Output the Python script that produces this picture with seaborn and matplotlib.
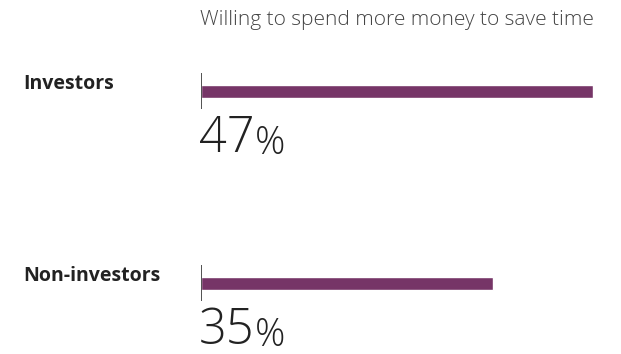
import matplotlib
matplotlib.use("Agg")
import matplotlib.pyplot as plt
import seaborn as sns
import pandas as pd

groups = ["Investors", "Non-investors"]
values = [47, 35]
title = "Willing to spend more money to save time"

bar_color = "#763567"
text_dark = "#222222"
text_grey = "#444444"

sns.set_theme(style="white")
plt.rcParams["font.family"] = ["Open Sans", "DejaVu Sans"]

df = pd.DataFrame({"group": groups, "value": values})

W, H = 621, 354
fig = plt.figure(figsize=(W / 100, H / 100), dpi=100)
x0, x1 = 201, 593
ax = fig.add_axes([x0 / W, 0, (x1 - x0) / W, 1])

sns.barplot(data=df, y="group", x="value", orient="h", color=bar_color,
            width=0.068, saturation=1, ax=ax)

row0, row_gap = 91.5, 192
ax.set_xlim(0, max(values))
ax.set_ylim((H - row0) / row_gap, -row0 / row_gap)
ax.axis("off")

for i, (g, v) in enumerate(zip(groups, values)):
    # short baseline tick at zero
    ax.vlines(0, i - 0.096, i + 0.089, color="#333333", lw=1.2)
    # category name in the left margin
    fig.text(23 / W, 1 - (row0 + i * row_gap - 7.5) / H, g, ha="left", va="center",
             fontsize=14, fontweight="bold", color=text_dark)
    # big value label under the bar
    num = ax.annotate(str(v), xy=(0, i), xytext=(-1.5, -16.5), textcoords="offset points",
                      ha="left", va="top", fontsize=35, fontweight="light",
                      color=text_dark)
    ax.annotate("%", xy=(1, 0), xycoords=num, xytext=(0.5, 7.8), textcoords="offset points",
                ha="left", va="baseline", fontsize=27, fontweight="light",
                color=text_dark)

fig.text(200 / W, 1 - 20 / H, title, ha="left", va="center", fontsize=15,
         fontweight="light", color=text_grey)

fig.savefig("out.png", dpi=100, facecolor="white")
